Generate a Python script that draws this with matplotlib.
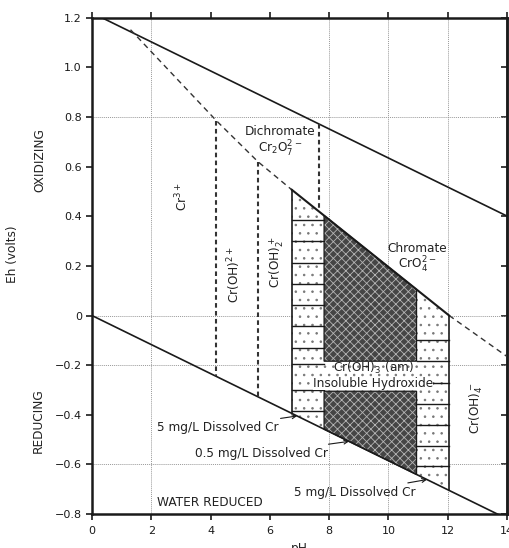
import numpy as np
import matplotlib
matplotlib.use('Agg')
import matplotlib.pyplot as plt

plt.rcParams['font.family'] = ['DejaVu Sans']
plt.rcParams['hatch.linewidth'] = 0.6
plt.rcParams['mathtext.fontset'] = 'dejavusans'

# ---------------- data ----------------
# water stability lines
water_ph = [0.0, 14.0]
water_upper_eh = [1.22, 0.401]
water_lower_eh = [0.0, -0.819]

# Cr(VI) / Cr(III) boundary, dashed parts
cr6_dash_ph = [1.3, 4.2, 5.6, 6.74]
cr6_dash_eh = [1.152, 0.785, 0.62, 0.507]
cr6_dash2_ph = [12.05, 14.0]
cr6_dash2_eh = [0.0, -0.165]

# solubility field (solid boundary on top)
field_top_ph = [6.74, 12.05]
field_top_eh = [0.507, 0.0]
outer_ph = [6.74, 12.05]      # 5 mg/L dissolved Cr
inner_ph = [7.83, 10.95]      # 0.5 mg/L dissolved Cr
label_gap_eh = [-0.305, -0.184]

# vertical species boundaries (dashed)
vb_ph = [4.2, 5.6, 7.65]
vb_top = [0.785, 0.62, 0.77]

# brick lines inside the 5 mg/L strips
left_rows = [0.386, 0.300, 0.213, 0.128, 0.043, -0.043, -0.13, -0.197, -0.30, -0.385]
right_rows = [-0.10, -0.184, -0.271, -0.358, -0.44, -0.526, -0.606]

xticks = [0, 2, 4, 6, 8, 10, 12, 14]
yticks = [-0.8, -0.6, -0.4, -0.2, 0, 0.2, 0.4, 0.6, 0.8, 1.0, 1.2]
ytick_labels = ['\u22120.8', '\u22120.6', '\u22120.4', '\u22120.2', '0', '0.2', '0.4', '0.6', '0.8', '1.0', '1.2']
grid_x = [2, 8, 10, 12]
grid_y = [0.8, 0, -0.2, -0.6]

def low(x):
    return np.interp(x, water_ph, water_lower_eh)

def up(x):
    return np.interp(x, water_ph, water_upper_eh)

def top(x):
    return np.interp(x, field_top_ph, field_top_eh)

# ---------------- figure ----------------
fig = plt.figure(figsize=(5.09, 5.48), dpi=100)
ax = fig.add_axes([0.1807, 0.062, 0.8153, 0.9055])
ax.set_xlim(0, 14)
ax.set_ylim(-0.8, 1.2)

for gx in grid_x:
    ax.axvline(gx, color='#999999', lw=0.7, ls=(0, (1, 1)), zorder=0.5)
for gy in grid_y:
    ax.axhline(gy, color='#999999', lw=0.7, ls=(0, (1, 1)), zorder=0.5)

ink = '#1a1a1a'

# water lines
ax.plot(water_ph, water_upper_eh, color=ink, lw=1.2, zorder=3)
ax.plot(water_ph, water_lower_eh, color=ink, lw=1.2, zorder=3)

# dashed Cr(VI)/Cr(III) boundary
ax.plot(cr6_dash_ph, cr6_dash_eh, color='#333333', lw=1.0, ls=(0, (4, 3)), zorder=3)
ax.plot(cr6_dash2_ph, cr6_dash2_eh, color='#333333', lw=1.0, ls=(0, (4, 3)), zorder=3)

# vertical dashed boundaries
vb_bottom = [low(vb_ph[0]), low(vb_ph[1]), top(vb_ph[2])]
for x, t, b in zip(vb_ph, vb_top, vb_bottom):
    ax.plot([x, x], [t, b], color='#333333', lw=1.5, ls=(0, (2.2, 1.6)), zorder=3)

# outer (5 mg/L) field: dotted
ox = [outer_ph[0], outer_ph[1], outer_ph[1], outer_ph[0]]
oy = [top(outer_ph[0]), top(outer_ph[1]), low(outer_ph[1]), low(outer_ph[0])]
ax.fill(ox, oy, facecolor='white', edgecolor='#777777', hatch='..', lw=0, zorder=1)

# brick lines
for r in left_rows:
    ax.plot([outer_ph[0], inner_ph[0]], [r, r], color=ink, lw=1.0, zorder=2)
for r in right_rows:
    ax.plot([inner_ph[1], outer_ph[1]], [r, r], color=ink, lw=1.0, zorder=2)

# inner (0.5 mg/L) field: dense texture, split by label gap
ix0, ix1 = inner_ph
up_x = [ix0, ix1, ix1, ix0]
up_y = [top(ix0), top(ix1), label_gap_eh[1], label_gap_eh[1]]
lo_x = [ix0, ix1, ix1, ix0]
lo_y = [label_gap_eh[0], label_gap_eh[0], low(ix1), low(ix0)]
for px, py in [(up_x, up_y), (lo_x, lo_y)]:
    ax.fill(px, py, facecolor='#454545', edgecolor='#b5b5b5', hatch='xxxx', lw=0, zorder=1.5)
    ax.fill(px, py, facecolor='none', edgecolor=ink, lw=0.9, zorder=2.2)

# outline of the outer field
ax.plot(field_top_ph, field_top_eh, color=ink, lw=1.5, zorder=3)
ax.plot([outer_ph[0], outer_ph[0]], [top(outer_ph[0]), low(outer_ph[0])], color=ink, lw=1.2, zorder=3)
ax.plot([outer_ph[1], outer_ph[1]], [top(outer_ph[1]), low(outer_ph[1])], color=ink, lw=1.2, zorder=3)

# ---------------- labels ----------------
tc = '#222222'
fs = 8.7
ax.text(3.03, 0.48, r'Cr$^{3+}$', rotation=90, ha='center', va='center', fontsize=fs, color=tc)
ax.text(4.79, 0.165, r'Cr(OH)$^{2+}$', rotation=90, ha='center', va='center', fontsize=fs, color=tc)
ax.text(6.23, 0.215, r'Cr(OH)$_2^+$', rotation=90, ha='center', va='center', fontsize=fs, color=tc)
ax.text(12.98, -0.374, r'Cr(OH)$_4^-$', rotation=90, ha='center', va='center', fontsize=fs, color=tc)
ax.text(6.35, 0.742, 'Dichromate', ha='center', va='center', fontsize=fs, color=tc)
ax.text(6.35, 0.672, r'Cr$_2$O$_7^{2-}$', ha='center', va='center', fontsize=fs, color=tc)
ax.text(10.97, 0.272, 'Chromate', ha='center', va='center', fontsize=fs, color=tc)
ax.text(10.97, 0.205, r'CrO$_4^{2-}$', ha='center', va='center', fontsize=fs, color=tc)
ax.text(9.5, -0.21, r'Cr(OH)$_3$ (am)', ha='center', va='center', fontsize=fs, color=tc, zorder=4)
ax.text(9.48, -0.274, 'Insoluble Hydroxide', ha='center', va='center', fontsize=fs, color=tc, zorder=4,
        bbox=dict(facecolor='white', edgecolor='none', pad=0.3))
ax.text(2.19, -0.752, 'WATER REDUCED', ha='left', va='center', fontsize=fs, color=tc)

arrow = dict(arrowstyle='->', color=ink, lw=0.8, shrinkA=0, shrinkB=0,
             mutation_scale=7)
ax.annotate('5 mg/L Dissolved Cr', xy=(6.92, low(6.92)), xytext=(6.28, -0.452),
            ha='right', va='center', fontsize=fs, color=tc, arrowprops=arrow)
ax.annotate('0.5 mg/L Dissolved Cr', xy=(8.67, low(8.67)), xytext=(7.95, -0.556),
            ha='right', va='center', fontsize=fs, color=tc, arrowprops=arrow)
ax.annotate('5 mg/L Dissolved Cr', xy=(11.3, low(11.3)), xytext=(10.93, -0.712),
            ha='right', va='center', fontsize=fs, color=tc, arrowprops=arrow)

# axis side labels
fig.text(12.5 / 509, 1 - 254 / 548, 'Eh (volts)', rotation=90, ha='center', va='center', fontsize=fs, color=tc)
fig.text(40 / 509, 1 - 160 / 548, 'OXIDIZING', rotation=90, ha='center', va='center', fontsize=fs, color=tc)
fig.text(38 / 509, 1 - 421 / 548, 'REDUCING', rotation=90, ha='center', va='center', fontsize=fs, color=tc)
ax.set_xlabel('pH', fontsize=fs, color=tc)
ax.xaxis.set_label_coords(0.5, -0.056)
ax.xaxis.label.set_va('top')

# ---------------- axes style ----------------
ax.set_xticks(xticks)
ax.set_yticks(yticks)
ax.set_yticklabels(ytick_labels)
ax.tick_params(axis='both', labelsize=8, colors=ink, width=1.2, length=4.3, direction='out', pad=3)
ax.tick_params(axis='x', pad=4, top=True)
ax.tick_params(axis='y', left=True, right=False)
ax.yaxis.set_ticks_position('left')
ax2 = ax.secondary_yaxis('right')
ax2.set_yticks(yticks)
ax2.tick_params(direction='in', length=4.3, width=1.2, labelright=False, colors=ink)
for s in ax.spines.values():
    s.set_linewidth(1.8)
    s.set_color(ink)
ax2.spines['right'].set_linewidth(1.8)
ax2.spines['right'].set_color(ink)

fig.savefig('out.png', dpi=100)
